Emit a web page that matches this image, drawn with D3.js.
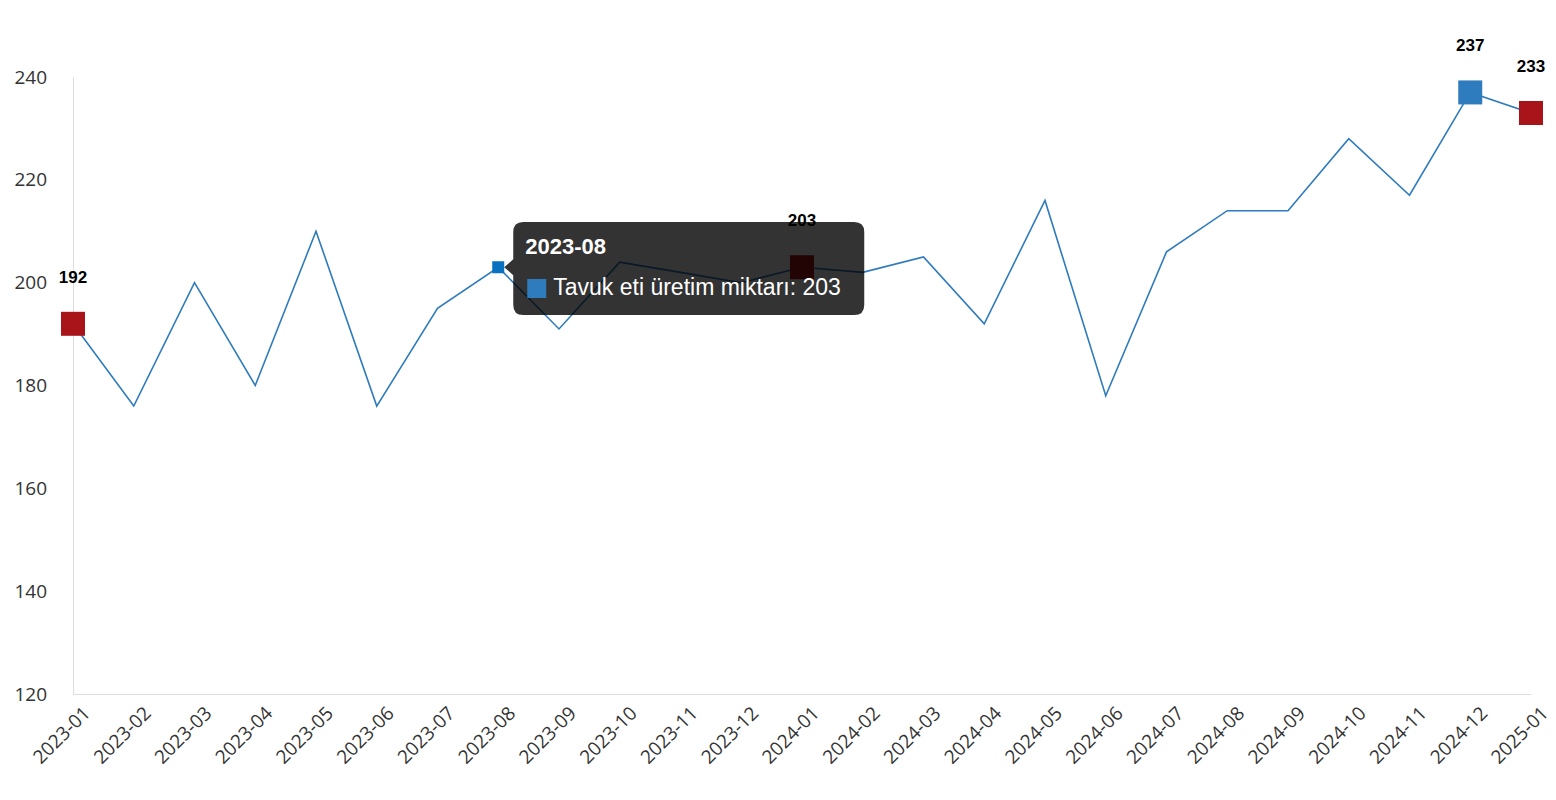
<!DOCTYPE html>
<html><head><meta charset="utf-8">
<script src="https://cdn.jsdelivr.net/npm/d3@7"></script>
<style>body{margin:0;background:#fff}</style>
</head><body><div id="chart"></div>
<script>
const months = ["2023-01","2023-02","2023-03","2023-04","2023-05","2023-06","2023-07","2023-08","2023-09","2023-10","2023-11","2023-12",
  "2024-01","2024-02","2024-03","2024-04","2024-05","2024-06","2024-07","2024-08","2024-09","2024-10","2024-11","2024-12","2025-01"];
const values = [192,176,200,180,210,176,195,203,191,204,202,200,203,202,205,192,216,178,206,214,214,228,217,237,233];
const redMarks = ["2023-01","2024-01","2025-01"];
const blueMarks = ["2024-12"];
const yTicks = [120,140,160,180,200,220,240];
const seriesName = "Tavuk eti üretim miktarı";
const hoverIdx = 7;

const width = 1556, height = 800;
const svg = d3.select("#chart").append("svg").attr("width", width).attr("height", height);
const x = d3.scalePoint().domain(months).range([73, 1531]);
const y = d3.scaleLinear().domain([120, 240]).range([694, 77]);

const yAxis = svg.append("g").attr("transform", "translate(73,0)")
  .call(d3.axisLeft(y).tickValues(yTicks).tickSize(0).tickPadding(26));
yAxis.select(".domain").attr("stroke", "#ddd");
yAxis.selectAll("text").attr("font-family", "Open Sans").attr("font-size", 19).attr("fill", "#333");

const xAxis = svg.append("g").attr("transform", "translate(0,694)")
  .call(d3.axisBottom(x).tickSize(0).tickPadding(10));
xAxis.select(".domain").attr("stroke", "#ddd");
xAxis.selectAll("text").attr("font-family", "Open Sans").attr("font-size", 19).attr("fill", "#333")
  .attr("text-anchor", "end").attr("transform", "rotate(-45)").attr("dx", "-0.1em").attr("dy", "0.9em");

svg.append("path").datum(values)
  .attr("fill", "none").attr("stroke", "#2e7bbd").attr("stroke-width", 1.6)
  .attr("d", d3.line().x((d, i) => x(months[i])).y(d => y(d)));

const marks = months.map((m, i) => ({m, v: values[i]}))
  .filter(d => redMarks.includes(d.m) || blueMarks.includes(d.m));
svg.selectAll("rect.mk").data(marks).join("rect")
  .attr("x", d => x(d.m) - 12).attr("y", d => y(d.v) - 12).attr("width", 24).attr("height", 24)
  .attr("fill", d => redMarks.includes(d.m) ? "#a8141a" : "#2e7bbd");
svg.selectAll("text.lb").data(marks).join("text")
  .attr("x", d => x(d.m)).attr("y", d => y(d.v) - 41).attr("text-anchor", "middle")
  .attr("font-family", "Liberation Sans, Arial").attr("font-weight", "bold").attr("font-size", 17)
  .text(d => d.v);

// hovered point
const hx = x(months[hoverIdx]), hy = y(values[hoverIdx]);
svg.append("rect").attr("x", hx - 6).attr("y", hy - 6).attr("width", 12).attr("height", 12).attr("fill", "#0a70c0");

// tooltip
const tt = svg.append("g").attr("transform", `translate(${hx + 15},222)`);
const tw = 351, th = 93, r = 10, ay = hy - 222;
tt.append("path").attr("fill", "rgba(0,0,0,0.8)")
  .attr("d", `M${r},0 H${tw - r} Q${tw},0 ${tw},${r} V${th - r} Q${tw},${th} ${tw - r},${th} H${r} Q0,${th} 0,${th - r} V${ay + 8} L-9,${ay} L0,${ay - 8} V${r} Q0,0 ${r},0 Z`);
tt.append("text").attr("x", 12).attr("y", 32).attr("fill", "#fff").attr("font-family", "Liberation Sans, Arial")
  .attr("font-weight", "bold").attr("font-size", 22).text(months[hoverIdx]);
tt.append("rect").attr("x", 14).attr("y", 57).attr("width", 19).attr("height", 19).attr("fill", "#2e7bbd");
tt.append("text").attr("x", 40).attr("y", 73).attr("fill", "#fff").attr("font-family", "Liberation Sans, Arial")
  .attr("font-size", 23).text(`${seriesName}: ${values[hoverIdx]}`);
</script></body></html>
